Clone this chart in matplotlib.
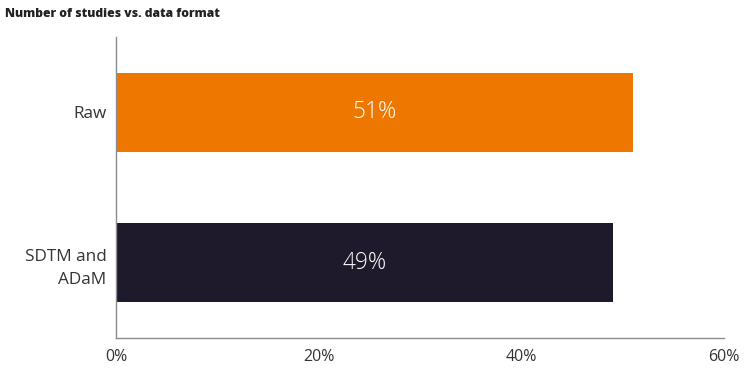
import matplotlib
matplotlib.use('Agg')
import matplotlib.pyplot as plt
from matplotlib.ticker import FuncFormatter

# Chart data
categories = ['SDTM and\nADaM', 'Raw']
values = [49, 51]
bar_colors = ['#1e1a2b', '#ee7700']
x_ticks = [0, 20, 40, 60]

plt.rcParams['font.family'] = ['Open Sans', 'DejaVu Sans']

fig = plt.figure(figsize=(7.5, 3.75), dpi=100)
ax = fig.add_axes([0.1547, 0.0987, 0.8106, 0.8026])

positions = list(range(len(categories)))
bars = ax.barh(positions, values, height=0.525, color=bar_colors)

# Percentage labels inside the bars
for bar, val in zip(bars, values):
    ax.text(bar.get_width() / 2, bar.get_y() + bar.get_height() / 2, f'{val}%',
            ha='center', va='center', color='white', fontsize=16.3, fontweight='light')

ax.set_xlim(0, 60)
ax.set_ylim(-0.5, 1.5)
ax.set_xticks(x_ticks)
ax.xaxis.set_major_formatter(FuncFormatter(lambda v, p: f'{v:.0f}%'))
ax.set_yticks(positions)
ax.set_yticklabels(categories, linespacing=1.6)

ax.tick_params(axis='x', length=0, colors='#333333', labelsize=11.5, pad=8)
ax.tick_params(axis='y', length=0, colors='#333333', labelsize=12.3, pad=7)

for side in ['top', 'right']:
    ax.spines[side].set_visible(False)
for side in ['left', 'bottom']:
    ax.spines[side].set_color('#8c8c8c')
    ax.spines[side].set_linewidth(1)

fig.text(0.007, 0.978, 'Number of studies vs. data format', fontsize=8.7,
         fontweight='heavy', color='#222222', ha='left', va='top')

fig.savefig('out.png', dpi=100)
